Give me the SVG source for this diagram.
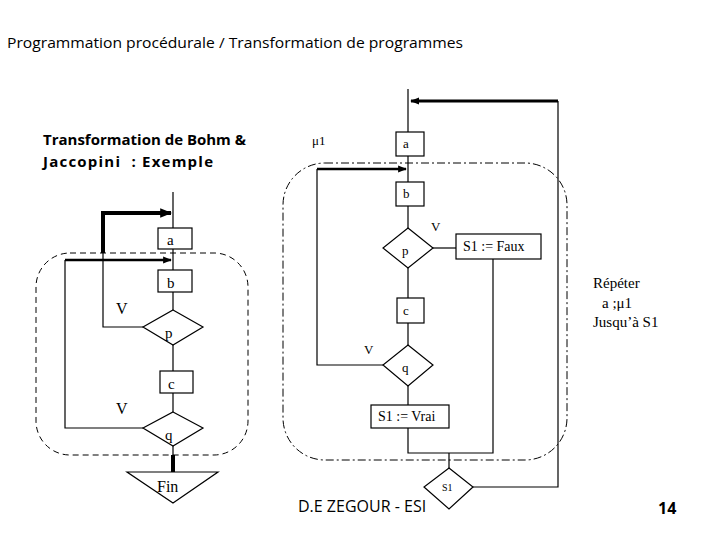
<svg xmlns="http://www.w3.org/2000/svg" width="720" height="540" viewBox="0 0 720 540">
<style>
.ln{fill:none;stroke:#000;stroke-width:1.2}
.bx{fill:#fff;stroke:#000;stroke-width:1.2}
.lbl{font-family:"Liberation Serif",serif;fill:#000}
.hd{font-family:"Open Sans","Liberation Sans",sans-serif;fill:#000}
</style>
<defs>
<marker id="ah" viewBox="0 0 10 10" refX="9" refY="5" markerWidth="3" markerHeight="3" orient="auto" markerUnits="strokeWidth"><path d="M0,1 L10,5 L0,9 z" fill="#000"/></marker>
<marker id="ah2" viewBox="0 0 10 10" refX="9" refY="5" markerWidth="3.5" markerHeight="3.5" orient="auto" markerUnits="strokeWidth"><path d="M0,1 L10,5 L0,9 z" fill="#000"/></marker>
</defs>
<rect width="720" height="540" fill="#fff"/>
<text class="hd" x="7" y="48" font-size="15" textLength="456" lengthAdjust="spacingAndGlyphs">Programmation procédurale / Transformation de programmes</text>
<text class="hd" x="43" y="145" font-size="15" font-weight="bold" textLength="203" lengthAdjust="spacingAndGlyphs">Transformation de Bohm &amp;</text>
<text class="hd" x="43" y="167" font-size="15" font-weight="bold" xml:space="preserve" textLength="170" lengthAdjust="spacing">Jaccopini  : Exemple</text>

<!-- regions -->
<rect x="36" y="253" width="212" height="202" rx="34" ry="34" fill="none" stroke="#000" stroke-width="1" stroke-dasharray="6,4"/>
<rect x="283" y="163" width="284" height="297" rx="42" ry="42" fill="none" stroke="#000" stroke-width="1" stroke-dasharray="8,3,2,3"/>

<g id="connectors">
<!-- left diagram -->
<path class="ln" d="M173,192 V228 M173,249 V270 M173,292 V310 M173,345 V371 M173,393 V412 M173,446 V455"/>
<path d="M173,455 V472" stroke="#000" stroke-width="4" fill="none"/>
<path d="M103,253 V213 H171" stroke="#000" stroke-width="4" fill="none" marker-end="url(#ah)"/>
<path class="ln" d="M103,253 V327 H143"/>
<path d="M65,260 H171" stroke="#000" stroke-width="2.5" fill="none" marker-end="url(#ah2)"/>
<path class="ln" d="M65,260 V428 H143"/>
<!-- right diagram -->
<path class="ln" d="M408,89 V132 M408,156 V182 M408,206 V228 M408,268 V298 M408,323 V345 M408,386 V405"/>
<path d="M558,101 H411" stroke="#000" stroke-width="3" fill="none" marker-end="url(#ah)"/>
<path class="ln" d="M558,101 V487 H473"/>
<path d="M317,169 H406" stroke="#000" stroke-width="2.5" fill="none" marker-end="url(#ah2)"/>
<path class="ln" d="M317,169 V365 H383"/>
<path class="ln" d="M433,248 H456"/>
<path class="ln" d="M493,259 V453 H408 V428 M449,453 V468"/>
</g>

<!-- left nodes -->
<g id="L_a"><rect class="bx" x="158" y="228" width="34" height="21"/><text class="lbl" x="167" y="245" style="font-size:15px">a</text></g>
<g id="L_b"><rect class="bx" x="158" y="270" width="34" height="22"/><text class="lbl" x="167" y="288" style="font-size:15px">b</text></g>
<g id="L_p"><polygon class="bx" points="173,310 203,327 173,345 143,327"/><text class="lbl" x="165" y="338" style="font-size:15px">p</text></g>
<g id="L_c"><rect class="bx" x="160" y="371" width="33" height="22"/><text class="lbl" x="168" y="389" style="font-size:15px">c</text></g>
<g id="L_q"><polygon class="bx" points="173,412 203,428 173,446 143,428"/><text class="lbl" x="165" y="440" style="font-size:15px">q</text></g>
<g id="L_fin"><polygon class="bx" points="127,472 218,472 173,503"/><text class="lbl" x="157" y="492" style="font-size:16px">Fin</text></g>
<text class="lbl" x="116" y="314" style="font-size:16px">V</text>
<text class="lbl" x="116" y="414" style="font-size:16px">V</text>

<!-- right nodes -->
<text class="lbl" x="312" y="145" style="font-size:13px">μ1</text>
<g id="R_a"><rect class="bx" x="396" y="132" width="28" height="24"/><text class="lbl" x="403" y="148" style="font-size:13px">a</text></g>
<g id="R_b"><rect class="bx" x="396" y="182" width="28" height="24"/><text class="lbl" x="403" y="198" style="font-size:13px">b</text></g>
<g id="R_p"><polygon class="bx" points="408,228 433,248 408,268 383,248"/><text class="lbl" x="402" y="255" style="font-size:13px">p</text></g>
<text class="lbl" x="431" y="231" style="font-size:13px">V</text>
<g id="R_faux"><rect class="bx" x="456" y="234" width="85" height="25"/><text class="lbl" x="463" y="251" style="font-size:14px">S1 := Faux</text></g>
<g id="R_c"><rect class="bx" x="397" y="298" width="27" height="25"/><text class="lbl" x="403" y="315" style="font-size:13px">c</text></g>
<text class="lbl" x="364" y="354" style="font-size:13px">V</text>
<g id="R_q"><polygon class="bx" points="408,345 433,365 408,386 383,365"/><text class="lbl" x="402" y="372" style="font-size:13px">q</text></g>
<g id="R_vrai"><rect class="bx" x="371" y="405" width="78" height="23"/><text class="lbl" x="378" y="421" style="font-size:14px">S1 := Vrai</text></g>
<g id="R_s1"><polygon class="bx" points="449,468 473,487 449,509 424,487"/><text class="lbl" x="442" y="491" style="font-size:10px">S1</text></g>

<g id="note">
<text class="lbl" x="593" y="288" style="font-size:15px">Répéter</text>
<text class="lbl" x="602" y="308" style="font-size:15px">a ;μ1</text>
<text class="lbl" x="593" y="327" style="font-size:15px">Jusqu’à S1</text>
</g>
<text class="hd" x="298" y="512" font-size="16">D.E ZEGOUR - ESI</text>
<text class="hd" x="658" y="514" font-size="16" font-weight="bold">14</text>
</svg>
